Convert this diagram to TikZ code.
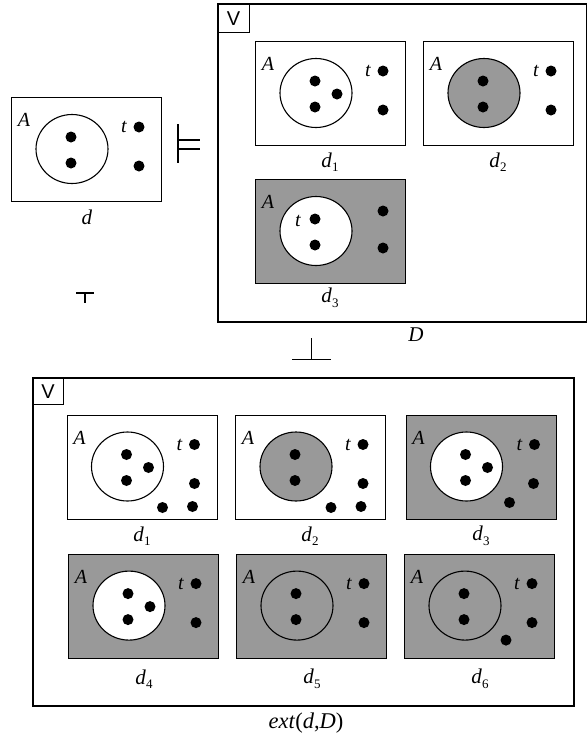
\documentclass[tikz,border=0pt]{standalone}
\usepackage{fontspec}
\setmainfont{Liberation Serif}
\newfontfamily\tabfont{Liberation Sans}
\usetikzlibrary{shapes.geometric}
\definecolor{shade}{RGB}{153,153,153}
\tikzset{
 sbox/.style={draw, line width=1.3pt, minimum width=150pt, minimum height=104pt, inner sep=0, anchor=north west},
 ell/.style={draw, ellipse, line width=1.1pt, minimum width=72pt, minimum height=69pt, inner sep=0},
 dotnode/.style={circle, fill=black, minimum size=11pt, inner sep=0},
 lbl/.style={font=\fontsize{20}{20}\selectfont\itshape, inner sep=0},
 caplbl/.style={font=\fontsize{21}{21}\selectfont, inner sep=0},
 framebox/.style={draw, line width=1.5pt, inner sep=0, anchor=north west},
 tabbox/.style={draw, line width=1.3pt, font=\tabfont\fontsize{20}{20}\selectfont, inner sep=0, anchor=north west},
 symline/.style={line width=1.2pt},
}
\newcommand\sub[1]{\raisebox{-4.5pt}{\fontsize{13}{13}\selectfont\upshape #1}}
\newcommand\dbox[6]{%
 \begin{scope}[shift={(#2,#3)}]
  \node[sbox, fill=#4] (#1) at (0,0) {};
  \node[ell, fill=#5] (#1c) at (61,52) {};
  \node[dotnode] (#1p) at (60,40) {};
  \node[dotnode] (#1q) at (60,66) {};
  \node[lbl] (#1A) at (13,23) {A};
  #6
 \end{scope}}
\begin{document}
\begin{tikzpicture}[x=1pt,y=-1pt]
\fill[white] (0,0) rectangle (587,737);
\useasboundingbox (0,0) rectangle (587,737);

% left d
\dbox{d}{11}{97}{white}{white}{%
  \node[dotnode] (dr) at (128,30) {}; \node[dotnode] (ds) at (128,69) {};
  \node[lbl] (dt) at (113,30) {t};}
\node[caplbl] (ld) at (87,217) {\textit{d}};

% models symbol
\draw[symline] (178,124) -- (178,163);
\draw[symline] (178,140) -- (200,140);
\draw[symline] (178,149) -- (200,149);

% top frame D
\node[framebox, minimum width=368.5pt, minimum height=318pt] (D) at (217,3) {};
\node[tabbox, minimum width=32pt, minimum height=29pt] (Dv) at (217,3) {V};
\node[caplbl] (lD) at (416,335) {\textit{D}};

\dbox{e}{255}{41}{white}{white}{%
  \node[dotnode] (ex) at (82,53) {};
  \node[dotnode] (er) at (128,30) {}; \node[dotnode] (es) at (128,69) {};
  \node[lbl] (et) at (113,30) {t};}
\node[caplbl] (le) at (330,162) {\textit{d}\sub{1}};

\dbox{f}{423}{41}{white}{shade}{%
  \node[dotnode] (fr) at (128,30) {}; \node[dotnode] (fs) at (128,69) {};
  \node[lbl] (ft) at (113,30) {t};}
\node[caplbl] (lf) at (498,162) {\textit{d}\sub{2}};

\dbox{g}{255}{179}{shade}{white}{%
  \node[dotnode] (gr) at (128,32) {}; \node[dotnode] (gs) at (128,69) {};
  \node[lbl] (gt) at (43,42) {t};}
\node[caplbl] (lg) at (330,298) {\textit{d}\sub{3}};

% tack symbols
\draw[symline] (76,293) -- (94,293);
\draw[symline] (85,293) -- (85,303);
\draw[symline] (292,359.5) -- (331,359.5);
\draw[symline] (311.5,338) -- (311.5,359.5);

% bottom frame ext
\node[framebox, minimum width=541pt, minimum height=328pt] (E) at (32,377) {};
\node[tabbox, minimum width=31pt, minimum height=27pt] (Ev) at (32,377) {V};
\node[caplbl, font=\fontsize{22.5}{22.5}\selectfont] (lE) at (306,723) {\textit{ext}(\textit{d},\textit{D})};

\dbox{h}{66.5}{414.5}{white}{white}{%
  \node[dotnode] (hx) at (82,53) {};
  \node[dotnode] (hr) at (128,30) {}; \node[dotnode] (hs) at (128,69) {};
  \node[dotnode] (hu) at (126,92) {}; \node[dotnode] (hv) at (96,93) {};
  \node[lbl] (ht) at (113,30) {t};}
\node[caplbl] (lh) at (142,536) {\textit{d}\sub{1}};

\dbox{i}{235}{414.5}{white}{shade}{%
  \node[dotnode] (ir) at (128,30) {}; \node[dotnode] (is) at (128,69) {};
  \node[dotnode] (iu) at (126,92) {}; \node[dotnode] (iv) at (96,93) {};
  \node[lbl] (it) at (113,30) {t};}
\node[caplbl] (li) at (310,536) {\textit{d}\sub{2}};

\dbox{j}{405.5}{414.5}{shade}{white}{%
  \node[dotnode] (jx) at (82,53) {};
  \node[dotnode] (jr) at (129,30) {}; \node[dotnode] (js) at (128,69) {};
  \node[dotnode] (jv) at (104,88) {};
  \node[lbl] (jt) at (114,30) {t};}
\node[caplbl] (lj) at (481,536) {\textit{d}\sub{3}};

\dbox{k}{68}{553.6}{shade}{white}{%
  \node[dotnode] (kx) at (82,53) {};
  \node[dotnode] (kr) at (128,30) {}; \node[dotnode] (ks) at (128,69) {};
  \node[lbl] (kt) at (113,30) {t};}
\node[caplbl] (lk) at (144,679) {\textit{d}\sub{4}};

\dbox{l}{236}{553.6}{shade}{shade}{%
  \node[dotnode] (lr) at (128,30) {}; \node[dotnode] (ls) at (128,69) {};
  \node[lbl] (lt) at (113,30) {t};}
\node[caplbl] (ll) at (312,679) {\textit{d}\sub{5}};

\dbox{m}{404}{553.6}{shade}{shade}{%
  \node[dotnode] (mr) at (128,30) {}; \node[dotnode] (ms) at (128,69) {};
  \node[dotnode] (mv) at (102,86.5) {};
  \node[lbl] (mt) at (113,30) {t};}
\node[caplbl] (lm) at (480,679) {\textit{d}\sub{6}};
\end{tikzpicture}
\end{document}
